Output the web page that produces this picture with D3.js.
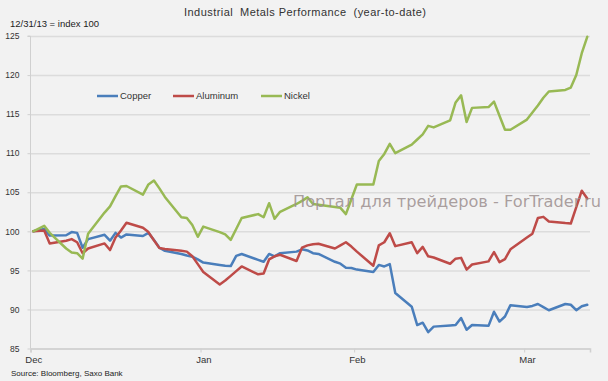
<!DOCTYPE html>
<html><head><meta charset="utf-8">
<script src="https://cdn.jsdelivr.net/npm/d3@7"></script>
<style>
html,body{margin:0;padding:0;background:#f2f2f2}
svg{display:block}
</style>
</head><body>
<svg id="chart" width="608" height="381"></svg>
<script>
// ---------- data ----------
const dates = [
"2013-12-31","2014-01-02","2014-01-03","2014-01-06","2014-01-07","2014-01-08","2014-01-09","2014-01-10",
"2014-01-13","2014-01-14","2014-01-15","2014-01-16","2014-01-17",
"2014-01-20","2014-01-21","2014-01-22","2014-01-23","2014-01-24",
"2014-01-27","2014-01-28","2014-01-29","2014-01-30","2014-01-31",
"2014-02-03","2014-02-04","2014-02-05","2014-02-06","2014-02-07",
"2014-02-10","2014-02-11","2014-02-12","2014-02-13","2014-02-14",
"2014-02-17","2014-02-18","2014-02-19","2014-02-20","2014-02-21",
"2014-02-24","2014-02-25","2014-02-26","2014-02-27","2014-02-28",
"2014-03-03","2014-03-04","2014-03-05","2014-03-06","2014-03-07",
"2014-03-10","2014-03-11","2014-03-12","2014-03-13","2014-03-14",
"2014-03-17","2014-03-18","2014-03-19","2014-03-20","2014-03-21",
"2014-03-24","2014-03-25","2014-03-26","2014-03-27","2014-03-28",
"2014-03-31","2014-04-01","2014-04-02","2014-04-03","2014-04-04",
"2014-04-07","2014-04-08","2014-04-09","2014-04-10","2014-04-11"
];
const copper = [
100,100.3,99.45,99.5,99.9,99.8,97.9,99.0,
99.55,98.8,99.8,99.2,99.6,
99.4,99.8,98.9,97.9,97.5,
97.1,96.9,96.75,96.4,96.0,
95.7,95.6,95.55,96.85,97.1,
96.35,96.1,97.1,96.8,97.2,
97.4,97.7,97.55,97.2,97.1,
96.1,95.86,95.34,95.3,95.1,
94.8,95.7,95.5,95.8,92.1,
90.35,88.0,88.3,87.1,87.8,
87.95,88.0,88.9,87.4,88.0,
87.9,89.7,88.45,89.1,90.55,
90.3,90.45,90.7,90.3,89.9,
90.7,90.6,89.9,90.4,90.6
];
const aluminum = [
100,100.1,98.45,98.8,99.0,98.6,97.2,97.8,
98.45,97.6,99.2,100.1,101.1,
100.45,99.9,98.85,97.85,97.75,
97.5,97.4,96.8,95.8,94.8,
93.2,93.7,94.3,94.9,95.5,
94.5,94.6,96.4,96.8,97.0,
96.2,97.9,98.2,98.35,98.4,
97.8,98.2,98.6,98.05,97.4,
95.6,98.2,98.6,99.75,98.1,
98.6,97.2,98.0,96.8,96.65,
95.85,96.5,96.6,95.1,95.75,
96.15,97.35,96.05,96.45,97.7,
99.2,99.7,101.7,101.85,101.25,
101.05,101.0,103.1,105.2,104.2
];
const nickel = [
100,100.7,99.8,97.8,97.3,97.2,96.5,99.7,
102.4,103.2,104.5,105.75,105.8,
104.7,106.0,106.5,105.5,104.4,
101.8,101.7,100.8,99.3,100.6,
99.9,99.6,98.9,100.3,101.7,
102.2,101.8,103.6,101.6,102.5,
103.5,103.9,104.35,103.5,103.4,
103.1,103.0,102.2,104.1,106.0,
106.0,109.0,109.9,111.2,110.0,
111.1,111.75,112.4,113.5,113.3,
114.2,116.5,117.4,114.0,115.8,
115.9,116.6,114.8,113.0,113.0,
114.3,115.2,116.1,117.1,117.9,
118.1,118.4,120.0,122.8,124.9
];
const seriesNames = ["Copper","Aluminum","Nickel"];
const seriesColors = ["#4a7ebb","#be4b48","#98b954"];
const yTicks = [85,90,95,100,105,110,115,120,125];
const monthDates = ["2013-12-31","2014-01-31","2014-02-28","2014-03-31"];
const monthLabels = ["Dec","Jan","Feb","Mar"];
const titleText = "Industrial  Metals Performance  (year-to-date)";
const subText = "12/31/13 = index 100";
const sourceText = "Source: Bloomberg, Saxo Bank";
const watermark = "Портал для трейдеров - ForTrader.ru";

// ---------- drawing ----------
(function(){
const parse = d3.utcParse("%Y-%m-%d");
const half = 12*3600*1000;
const dts = dates.map(parse);
const svg = d3.select("#chart");
const L = 30.5, R = 590, T = 36, B = 348.5;
const FONT = "Liberation Sans, Arial, sans-serif";

const x = d3.scaleUtc()
  .domain([new Date(+dts[0]-half), new Date(+dts[dts.length-1]+half)])
  .range([L, R]);
const y = d3.scaleLinear().domain([85,125]).range([B, T]);

svg.append("rect").attr("width",608).attr("height",381).attr("fill","#f2f2f2");

// gridlines
svg.append("g")
  .attr("transform",`translate(${L},0)`)
  .call(d3.axisLeft(y).tickValues(yTicks).tickSize(-(R-L)).tickFormat(""))
  .call(g=>g.select(".domain").remove())
  .call(g=>g.selectAll(".tick line").attr("stroke","#dcdcdc").attr("stroke-width",1.5));

// y axis
const yAx = svg.append("g")
  .attr("transform",`translate(${L},0)`)
  .call(d3.axisLeft(y).tickValues(yTicks).tickSize(3).tickPadding(8).tickFormat(d3.format("d")));
yAx.select(".domain").attr("stroke","#d0d0d0").attr("d",`M-3,${T}H0V${B}`);
yAx.selectAll(".tick line").attr("stroke","#d0d0d0");
yAx.selectAll(".tick text").attr("fill","#333").attr("font-size","8.5px").attr("font-family",FONT);

// x axis ticks at slot boundaries
const xb = svg.append("g")
  .attr("transform",`translate(0,${B})`)
  .call(d3.axisBottom(x).tickValues(monthDates.map(s=>new Date(+parse(s)-half))).tickSize(4).tickFormat(""));
xb.select(".domain").attr("stroke","#d0d0d0").attr("stroke-width",1.5);
xb.selectAll(".tick line").attr("stroke","#d0d0d0");

// x labels at date centers
const xl = svg.append("g")
  .attr("transform",`translate(0,${B})`)
  .call(d3.axisBottom(x).tickValues(monthDates.map(parse)).tickSize(0).tickPadding(8)
    .tickFormat((d,i)=>monthLabels[i]));
xl.select(".domain").remove();
xl.selectAll(".tick text").attr("fill","#333").attr("font-size","9.5px").attr("font-family",FONT);

// lines
const values = [copper, aluminum, nickel];
const line = d3.line().x((d,i)=>x(dts[i])).y(d=>y(d));
values.forEach((vals,k)=>{
  svg.append("path").datum(vals)
    .attr("fill","none").attr("stroke",seriesColors[k]).attr("stroke-width",2.5)
    .attr("stroke-linejoin","round").attr("stroke-linecap","round")
    .attr("d",line);
});

// legend
const legX = [97, 173, 261];
seriesNames.forEach((n,k)=>{
  const g = svg.append("g").attr("transform",`translate(${legX[k]},96)`);
  g.append("line").attr("x1",0).attr("x2",21).attr("y1",0).attr("y2",0)
    .attr("stroke",seriesColors[k]).attr("stroke-width",2.5);
  g.append("text").attr("x",23).attr("y",3.3).text(n)
    .attr("font-size","9.5px").attr("fill","#333").attr("font-family",FONT);
});

// texts
svg.append("text").attr("x",184).attr("y",15.5)
  .attr("xml:space","preserve").style("white-space","pre")
  .attr("font-size","11px").attr("fill","#333").attr("font-family",FONT)
  .attr("textLength",242).attr("lengthAdjust","spacing")
  .text(titleText);
svg.append("text").attr("x",10).attr("y",26.5)
  .attr("font-size","9.5px").attr("fill","#222").attr("font-family",FONT)
  .text(subText);
svg.append("text").attr("x",11).attr("y",376)
  .attr("font-size","8px").attr("fill","#222").attr("font-family",FONT)
  .text(sourceText);

// watermark
svg.append("text").attr("x",293).attr("y",206.5)
  .attr("font-size","16.5px").attr("fill","#9c8f8f").attr("fill-opacity",0.85)
  .attr("font-family","DejaVu Sans, Verdana, sans-serif")
  .attr("textLength",308).attr("lengthAdjust","spacingAndGlyphs")
  .text(watermark);
})();
</script>
</body></html>
